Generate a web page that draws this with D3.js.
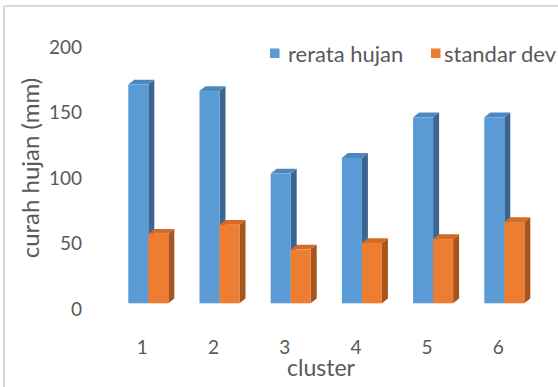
<!DOCTYPE html>
<html>
<head>
<meta charset="utf-8">
<script src="https://cdn.jsdelivr.net/npm/d3@7"></script>
<style>
  html, body { margin: 0; padding: 0; background: #fff; }
  svg { display: block; }
  text { font-family: Lato, "Open Sans", sans-serif; fill: #595959; }
</style>
</head>
<body>
<svg id="chart" width="558" height="387"></svg>
<script>
// Cluster rainfall: mean and standard deviation per cluster
const clusters = ["1", "2", "3", "4", "5", "6"];
const rerataHujan = [167, 162, 99, 111, 142, 142];
const standarDev = [53, 60, 41, 46, 49, 62];
const yTicks = [0, 50, 100, 150, 200];
const seriesNames = ["rerata hujan", "standar dev"];

const palette = {
  "rerata hujan": { front: "#5b9bd5", top: "#4d87bf", side: "#3b6691" },
  "standar dev":  { front: "#ed7d31", top: "#d36a26", side: "#a8541d" }
};

const svg = d3.select("#chart");
const W = 558, H = 387;
svg.append("rect").attr("width", W).attr("height", H).attr("fill", "#fff");

// chart frame (left and top edges)
svg.append("line").attr("x1", 4).attr("x2", 4).attr("y1", 6).attr("y2", H)
  .attr("stroke", "#d9d9d9").attr("stroke-width", 2);
svg.append("line").attr("x1", 4).attr("x2", W).attr("y1", 6).attr("y2", 6)
  .attr("stroke", "#d9d9d9").attr("stroke-width", 2);

const y = d3.scaleLinear().domain([0, 200]).range([303.3, 41.3]);
const x = d3.scaleBand().domain(clusters).range([97.1, 555.5])
  .paddingInner(0.438).paddingOuter(0.438);
const xs = d3.scaleBand().domain(seriesNames).range([0, x.bandwidth()]);

const depthX = 6, depthY = -4.8;

// value axis labels
const yAxis = d3.axisLeft(y).tickValues(yTicks).tickSize(0).tickPadding(0);
const yg = svg.append("g").attr("transform", "translate(82,6)").call(yAxis);
yg.select(".domain").remove();
yg.selectAll("text").attr("font-size", 19).attr("fill", "#595959")
  .style("font-family", "Lato, 'Open Sans', sans-serif");

// category labels
const xAxis = d3.axisBottom(x).tickSize(0).tickPadding(0);
const xg = svg.append("g").attr("transform", "translate(-6,340)").call(xAxis);
xg.select(".domain").remove();
xg.selectAll("text").attr("font-size", 19).attr("fill", "#595959")
  .style("font-family", "Lato, 'Open Sans', sans-serif");

// 3D columns
const rows = [];
clusters.forEach((c, i) => {
  rows.push({ c, s: "rerata hujan", v: rerataHujan[i] });
  rows.push({ c, s: "standar dev", v: standarDev[i] });
});

const bars = svg.append("g");
rows.forEach(d => {
  const x0 = x(d.c) + xs(d.s), w = xs.bandwidth();
  const yt = y(d.v), yb = y(0);
  const col = palette[d.s];
  const g = bars.append("g");
  // side face
  g.append("polygon")
    .attr("points", [[x0 + w, yt], [x0 + w + depthX, yt + depthY], [x0 + w + depthX, yb + depthY], [x0 + w, yb]].join(" "))
    .attr("fill", col.side);
  // top face
  g.append("polygon")
    .attr("points", [[x0, yt], [x0 + depthX, yt + depthY], [x0 + w + depthX, yt + depthY], [x0 + w, yt]].join(" "))
    .attr("fill", col.top);
  // front face
  g.append("rect").attr("x", x0).attr("y", yt).attr("width", w).attr("height", yb - yt)
    .attr("fill", col.front);
});

// axis titles
svg.append("text").attr("transform", "translate(39,168) rotate(-90)")
  .attr("text-anchor", "middle").attr("font-size", 24).text("curah hujan (mm)");
svg.append("text").attr("x", 321).attr("y", 376)
  .attr("text-anchor", "middle").attr("font-size", 23).text("cluster");

// legend
const legendX = [270, 431];
const legendTextX = [288, 444];
seriesNames.forEach((s, i) => {
  svg.append("rect").attr("x", legendX[i]).attr("y", 48.5).attr("width", 9.5).attr("height", 9.5)
    .attr("fill", palette[s].front);
  svg.append("text").attr("x", legendTextX[i]).attr("y", 61.5)
    .attr("font-size", 22).text(s);
});
</script>
</body>
</html>
